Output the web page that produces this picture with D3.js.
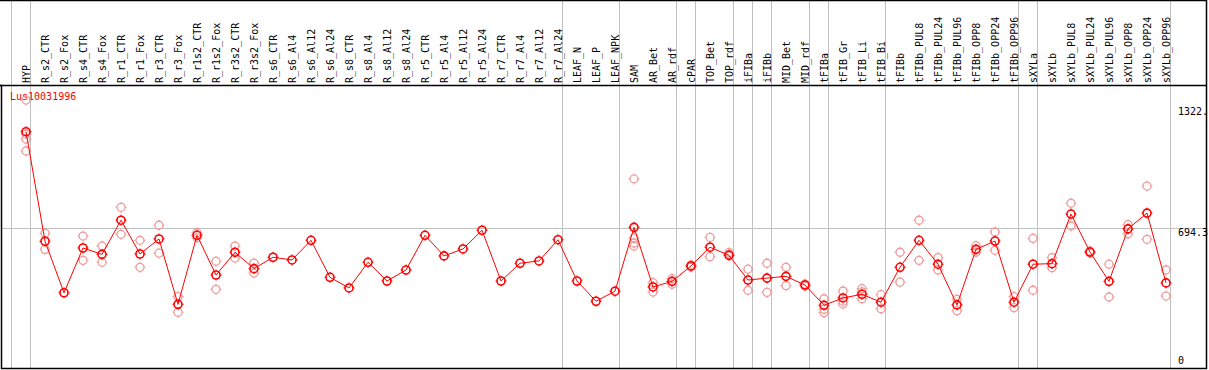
<!DOCTYPE html>
<html>
<head>
<meta charset="utf-8">
<script src="https://cdn.jsdelivr.net/npm/d3@7"></script>
<style>
  body { margin: 0; background: #fff; }
  svg { display: block; font-family: "DejaVu Sans Mono", monospace; }
</style>
</head>
<body>
<div id="chart"></div>
<script>
"use strict";

var geneName = "Lus10031996";

var samples = [
  "HYP", "R_s2_CTR", "R_s2_Fox", "R_s4_CTR", "R_s4_Fox", "R_r1_CTR", "R_r1_Fox",
  "R_r3_CTR", "R_r3_Fox", "R_r1s2_CTR", "R_r1s2_Fox", "R_r3s2_CTR", "R_r3s2_Fox",
  "R_s6_CTR", "R_s6_Al4", "R_s6_Al12", "R_s6_Al24", "R_s8_CTR", "R_s8_Al4",
  "R_s8_Al12", "R_s8_Al24", "R_r5_CTR", "R_r5_Al4", "R_r5_Al12", "R_r5_Al24",
  "R_r7_CTR", "R_r7_Al4", "R_r7_Al12", "R_r7_Al24", "LEAF_N", "LEAF_P", "LEAF_NPK",
  "SAM", "AR_Bet", "AR_rdf", "cPAR", "TOP_Bet", "TOP_rdf", "iFIBa", "iFIBb",
  "MID_Bet", "MID_rdf", "tFIBa", "tFIB_Gr", "tFIB_Li", "tFIB_Bi", "tFIBb",
  "tFIBb_PUL8", "tFIBb_PUL24", "tFIBb_PUL96", "tFIBb_OPP8", "tFIBb_OPP24", "tFIBb_OPP96",
  "sXYLa", "sXYLb", "sXYLb_PUL8", "sXYLb_PUL24", "sXYLb_PUL96", "sXYLb_OPP8",
  "sXYLb_OPP24", "sXYLb_OPP96"
];

// mean expression per sample
var meanValues = [
  1194, 626, 359, 591, 558, 735, 560, 638, 299, 657, 451, 569, 484,
  543, 529, 631, 439, 384, 517, 420, 477, 657, 550, 586, 683,
  420, 512, 524, 634, 420, 315, 367,
  698, 389, 418, 498, 595, 553, 425, 435,
  444, 399, 294, 332, 351, 310, 491,
  631, 507, 296, 584, 627, 310,
  507, 510, 767, 570, 418, 690, 772, 410
];

// individual replicates per sample
var replicateValues = [
  [1358, 1182, 1156, 1094], [667, 584], [], [653, 527], [601, 517], [802, 662], [631, 491],
  [709, 564], [339, 258], [670, 644], [522, 377], [601, 539], [513, 461],
  [], [], [], [], [], [],
  [], [], [], [], [], [],
  [], [], [], [], [], [], [],
  [949, 643, 617, 601], [411, 363], [432, 403], [503, 492], [646, 546], [567, 558], [481, 372], [512, 361],
  [491, 396], [404, 394], [328, 273, 256], [368, 315, 301], [380, 364, 328], [349, 276], [569, 414],
  [735, 527], [541, 477], [325, 266], [603, 569], [674, 579], [339, 282],
  [641, 372], [541, 489], [823, 705], [575, 565], [507, 337], [712, 665], [912, 636], [477, 342]
];

// sample index where a new tissue group starts
var groupBreaks = [0, 1, 29, 32, 35, 36, 38, 39, 40, 42, 43, 46, 53, 54, 61];

var scaleTicks = [1322, 694.3, 0];
var scaleTickLabels = ["1322.", "694.3", "0"];
var refLineValue = 694.3;

var width = 1209, height = 370;
var headerY = 85, rightEdge = 1206, bottomEdge = 368;

var x = d3.scaleBand().domain(d3.range(samples.length + 1)).range([11, 11 + 19 * (samples.length + 1)]).padding(0);
var y = d3.scaleLinear().domain([0, 1322]).range([362, 107]);

function px(i) { return x(i) + 15; }

var svg = d3.select("#chart").append("svg")
  .attr("width", width)
  .attr("height", height);

// group separators
svg.selectAll(".sep")
  .data(groupBreaks)
  .enter()
  .append("line")
  .attr("x1", function(k) { return x(k) + 0.5; })
  .attr("x2", function(k) { return x(k) + 0.5; })
  .attr("y1", 0)
  .attr("y2", bottomEdge)
  .style("stroke", "#c0c0c0")
  .style("stroke-width", 1)
  .style("shape-rendering", "crispEdges");

// reference line
svg.append("line")
  .attr("x1", 1)
  .attr("x2", rightEdge)
  .attr("y1", Math.round(y(refLineValue)) + 0.5)
  .attr("y2", Math.round(y(refLineValue)) + 0.5)
  .style("stroke", "#c0c0c0")
  .style("stroke-width", 1)
  .style("shape-rendering", "crispEdges");

// frame
svg.append("path")
  .attr("d", "M0,0.5H" + (rightEdge + 0.5) + "V" + (bottomEdge + 0.5) + "H1.5V" + (headerY + 0.5) + "H0")
  .style("fill", "none")
  .style("stroke", "#000")
  .style("stroke-width", 1.5);
svg.append("line")
  .attr("x1", 0).attr("x2", rightEdge)
  .attr("y1", headerY + 0.5).attr("y2", headerY + 0.5)
  .style("stroke", "#000")
  .style("stroke-width", 1.5);

// column labels
svg.selectAll(".lab")
  .data(samples)
  .enter()
  .append("text")
  .attr("transform", function(d, i) {
    return "translate(" + (px(i) + 3.5) + "," + (headerY - 2) + ") rotate(-90)";
  })
  .style("font-size", "10px")
  .style("fill", "#000")
  .text(function(d) { return d; });

// gene name
svg.append("text")
  .attr("x", 10)
  .attr("y", 100)
  .style("font-size", "10px")
  .style("fill", "#ff0000")
  .text(geneName);

// right scale labels
svg.selectAll(".tick")
  .data(scaleTicks)
  .enter()
  .append("text")
  .attr("x", 1178)
  .attr("y", function(d, i) { return i === 2 ? y(d) + 2 : y(d) + 8; })
  .style("font-size", "10px")
  .style("fill", "#000")
  .text(function(d, i) { return scaleTickLabels[i]; });

function marker(g, cx, cy, color, sw) {
  g.append("circle")
    .attr("cx", cx).attr("cy", cy).attr("r", 4)
    .style("fill", "none").style("stroke", color).style("stroke-width", sw);
  g.append("path")
    .attr("d", "M" + (cx - 5.5) + "," + cy + "h1.5M" + (cx + 4) + "," + cy + "h1.5" +
      "M" + cx + "," + (cy - 5.5) + "v1.5M" + cx + "," + (cy + 4) + "v1.5")
    .style("stroke", color).style("stroke-width", 1);
}

// replicates
var reps = svg.append("g");
replicateValues.forEach(function(vals, i) {
  vals.forEach(function(v) {
    marker(reps, px(i), y(v), "#f09a9a", 1.3);
  });
});

// mean line
svg.append("path")
  .datum(meanValues)
  .attr("d", d3.line()
    .x(function(d, i) { return px(i); })
    .y(function(d) { return y(d); }))
  .style("fill", "none")
  .style("stroke", "#ff0000")
  .style("stroke-width", 1);

var means = svg.append("g");
meanValues.forEach(function(v, i) {
  marker(means, px(i), y(v), "#ff0000", 1.6);
});
</script>
</body>
</html>
